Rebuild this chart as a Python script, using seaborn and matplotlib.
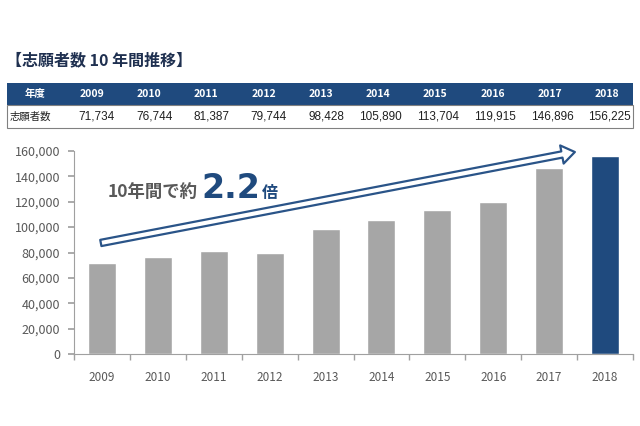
import seaborn as sns
import matplotlib.pyplot as plt
import pandas as pd
from matplotlib.patches import Rectangle, FancyArrowPatch, ArrowStyle

# データ
years = ['2009', '2010', '2011', '2012', '2013', '2014', '2015', '2016', '2017', '2018']
applicants = [71734, 76744, 81387, 79744, 98428, 105890, 113704, 119915, 146896, 156225]
bar_colors = ['#a6a6a6'] * 9 + ['#1f4a7e']

sns.set_theme(style='white')
plt.rcParams['font.family'] = ['Noto Sans CJK JP', 'DejaVu Sans']

df = pd.DataFrame({'year': years, 'n': applicants})

fig = plt.figure(figsize=(6.4, 4.26), dpi=100)
ax = fig.add_axes([74 / 640, 1 - 354 / 426, 559 / 640, 203 / 426])

sns.barplot(data=df, x='year', y='n', hue='year', palette=bar_colors,
            width=0.5, legend=False, ax=ax, saturation=1)

ax.set_xlim(-0.5, len(years) - 0.5)
ax.set_ylim(0, 160000)
ax.set_yticks(range(0, 160001, 20000))
ax.set_yticklabels([f'{v:,}' for v in range(0, 160001, 20000)])
ax.set_xlabel('')
ax.set_ylabel('')
for s in ['top', 'right']:
    ax.spines[s].set_visible(False)
for s in ['left', 'bottom']:
    ax.spines[s].set_color('#a0a0a0')
    ax.spines[s].set_linewidth(0.8)
ax.tick_params(axis='y', left=True, length=4, color='#a0a0a0', labelsize=9,
               labelcolor='#595959', pad=6)
ax.tick_params(axis='x', bottom=False, labelsize=8.5, labelcolor='#595959', pad=6)
# カテゴリ境界の目盛り
ax.set_xticks([i + 0.5 for i in range(-1, len(years))], minor=True)
ax.tick_params(axis='x', which='minor', bottom=True, length=4, color='#a0a0a0')

# 矢印と注記
style = ArrowStyle.Simple(head_length=0.5, head_width=0.7, tail_width=0.24)
arr = FancyArrowPatch((0.048, 0.547), (0.896, 0.995), arrowstyle=style,
                      mutation_scale=19, transform=ax.transAxes,
                      facecolor='white', edgecolor='#2a5488', linewidth=1.6,
                      shrinkA=0, shrinkB=0, zorder=5, clip_on=False)
ax.add_patch(arr)

fig.canvas.draw()
r = fig.canvas.get_renderer()
base = 1 - 198 / 426
t1 = fig.text(108 / 640, base, '10年間で約', fontsize=12.5, fontweight='bold',
              color='#595959', va='baseline')
x = t1.get_window_extent(r).x1 / 640 + 0.006
t2 = fig.text(x, base, '2.2', fontsize=24, fontweight='bold', color='#1f4a7e',
              va='baseline', family=['DejaVu Sans'])
x = t2.get_window_extent(r).x1 / 640 + 0.002
fig.text(x, base, '倍', fontsize=11.5, fontweight='bold', color='#1f4a7e',
         va='baseline')

# タイトル
fig.text(0.01, 0.858, '【志願者数 10 年間推移】', fontsize=11.5, fontweight='bold',
         color='#1f3050', va='center')

# 表
x0, x1 = 7 / 640, 633 / 640
y_top, y_mid, y_bot = 1 - 83 / 426, 1 - 105 / 426, 1 - 128 / 426
fig.add_artist(Rectangle((x0, y_mid), x1 - x0, y_top - y_mid, transform=fig.transFigure,
                         facecolor='#1f4a7e', edgecolor='none'))
fig.add_artist(Rectangle((x0, y_bot), x1 - x0, y_mid - y_bot, transform=fig.transFigure,
                         facecolor='white', edgecolor='#808080', linewidth=0.8))
fig.text(35 / 640, (y_top + y_mid) / 2, '年度', fontsize=7.5, fontweight='bold',
         color='white', ha='center', va='center')
fig.text(10 / 640, (y_mid + y_bot) / 2, '志願者数', fontsize=7.5, color='#202020',
         ha='left', va='center')
col_w = 57.3
for i, (yr, v) in enumerate(zip(years, applicants)):
    left = 63 + i * col_w
    fig.text((left + 28.5) / 640, (y_top + y_mid) / 2, yr, fontsize=7.5,
             fontweight='bold', color='white', ha='center', va='center')
    fig.text((left + 52) / 640, (y_mid + y_bot) / 2, f'{v:,}', fontsize=8.5,
             color='#202020', ha='right', va='center', family=['Liberation Sans'])

plt.savefig('out.png', dpi=100)
